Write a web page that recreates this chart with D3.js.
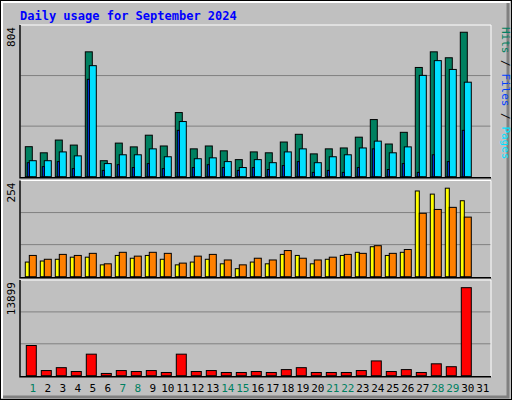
<!DOCTYPE html><html><head><meta charset="utf-8">
<script src="https://cdn.jsdelivr.net/npm/d3@7"></script>
<style>body{margin:0;background:#fff}svg{display:block}text{font-family:"DejaVu Sans Mono",monospace}</style></head><body>
<script>
const days=d3.range(1,32);
const weekend=[1,7,8,14,15,21,22,28,29];
const hits=[167,133,204,176,695,89,187,166,231,171,357,155,171,144,95,138,133,193,236,127,155,160,220,318,182,247,608,695,662,804,0];
const files=[89,89,138,116,618,73,122,122,155,111,307,100,105,84,51,95,78,138,155,78,111,122,160,198,133,166,564,646,597,526,0];
const pages=[78,56,84,45,542,35,67,51,73,45,258,51,67,51,35,51,40,62,84,24,35,24,51,155,40,73,24,122,84,258,0];
const visits=[42,45,50,56,56,34,61,53,61,50,34,42,50,37,23,42,37,64,61,37,50,61,70,86,61,70,246,237,254,218,0];
const sites=[61,50,64,61,67,37,70,59,70,67,39,59,64,48,34,53,48,75,53,48,56,64,67,89,67,78,182,193,199,171,0];
const kbytes=[4768,812,1268,659,3399,355,812,659,812,507,3399,659,812,507,507,659,507,964,1268,507,507,507,812,2333,659,964,507,1877,1420,13899,0];

const W=512,H=400;
const svg=d3.select("body").append("svg").attr("width",W).attr("height",H);
svg.append("rect").attr("x",0).attr("y",0).attr("width",W).attr("height",H).attr("fill","#c0c0c0");
svg.append("rect").attr("x",0.5).attr("y",0.5).attr("width",W-1).attr("height",H-1).attr("fill","none").attr("stroke","#000");
svg.append("path").attr("d","M2,398V2H510").attr("stroke","#fff").attr("fill","none").attr("stroke-width",2);
svg.append("path").attr("d","M508,3V397H3").attr("stroke","#808080").attr("fill","none").attr("stroke-width",3);
svg.append("text").attr("x",20).attr("y",20).attr("fill","#0000ff").attr("font-weight","bold").attr("font-size",12).text("Daily usage for September 2024");

const x=d3.scaleBand().domain(days).range([25.3,25.3+15*31]);
const L=20,R=491;
function panel(y0,y1,max,topVal){
  const y=d3.scaleLinear().domain([0,max]).range([y1,y1-(y1-y0-4)]);
  svg.append("rect").attr("x",L).attr("y",y0).attr("width",R-L).attr("height",y1-y0+1).attr("fill","#c0c0c0");
  const h=y1-y0;
  [1,2].forEach(k=>svg.append("line").attr("x1",L).attr("x2",R).attr("y1",y1-h*k/3).attr("y2",y1-h*k/3).attr("stroke","#808080"));
  svg.append("path").attr("d",`M${L},${y1+1}V${y0}H${R}V${y1+1}`).attr("stroke","#fff").attr("fill","none");
  svg.append("path").attr("d",`M${L},${y0}V${y1+1}H${R}`).attr("stroke","#000").attr("fill","none").attr("stroke-width",1.5);
  svg.append("text").attr("transform",`translate(15,${y0+2}) rotate(-90)`).attr("text-anchor","end").attr("font-size",11).text(topVal);
  return y;
}
function bars(data,y,dx,w,fill){
  svg.append("g").selectAll("rect").data(days.filter((d,i)=>data[i]>0)).join("rect")
   .attr("x",d=>x(d)+dx).attr("width",w).attr("y",d=>y(data[d-1])).attr("height",d=>y(0)-y(data[d-1]))
   .attr("fill",fill).attr("stroke","#000").attr("stroke-width",1);
}
const y1=panel(25,176.7,804/0.978,"804");
bars(hits,y1,0,7,"#008060");
bars(files,y1,4,7,"#00e0ff");
bars(pages,y1,2,2,"#0040ff");
const y2=panel(180.5,276.7,254/0.96,"254");
bars(visits,y2,0,4,"#ffff00");
bars(sites,y2,4,7,"#ff8000");
const y3=panel(280,375.7,13899/0.96,"13899");
bars(kbytes,y3,1,10,"#ff0000");

svg.append("g").selectAll("text").data(days).join("text").attr("x",d=>x(d)+7.5).attr("y",392)
 .attr("text-anchor","middle").attr("font-size",11).attr("fill",d=>weekend.includes(d)?"#008060":"#000").text(d=>d);

function rlabel(y,parts){
  const t=svg.append("text").attr("transform",`translate(502,${y}) rotate(90)`).attr("font-size",11);
  parts.forEach(([s,c])=>t.append("tspan").attr("fill",c).text(s));
}
rlabel(27,[["Hits","#008060"],[" / ","#000"],["Files","#0040ff"],[" / ","#000"],["Pages","#00e0ff"]]);
function rlabelUp(yEnd,parts){
  const t=svg.append("text").attr("transform",`translate(502,${yEnd}) rotate(-90)`).attr("font-size",11);
  parts.forEach(([s,c])=>t.append("tspan").attr("fill",c).text(s));
}
svg.selectAll("text").filter(function(){return false;});
// Pages/Files/Hits reads bottom-to-top in reference
svg.select("text:last-of-type");
</script>
</body></html>
